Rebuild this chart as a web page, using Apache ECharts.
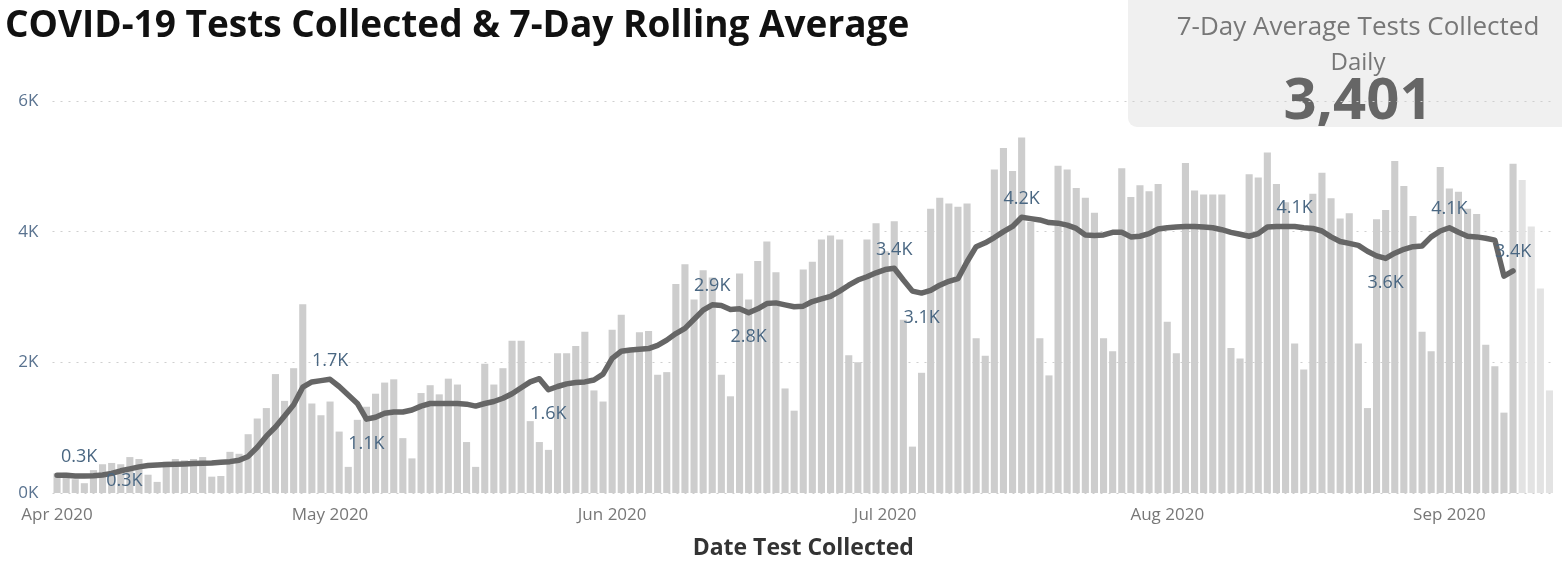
<!DOCTYPE html>
<html>
<head>
<meta charset="utf-8">
<title>COVID-19 Tests Collected</title>
<script src="https://cdn.jsdelivr.net/npm/echarts@6.0.0/dist/echarts.min.js"></script>
<style>
    html, body { margin: 0; padding: 0; background: #fff; }
    #chart { width: 1562px; height: 570px; }
</style>
</head>
<body>
<div id="chart"></div>
<script>
// tests collected per day, Apr 1 2020 .. Sep 12 2020
const dailyTests = [
    // Apr
    300, 310, 210, 150, 350, 440, 460, 440, 550, 520, 280, 170, 480, 520, 500,
    520, 550, 250, 260, 630, 600, 900, 1140, 1300, 1820, 1410, 1910, 2890, 1370, 1190,
    // May
    1400, 940, 400, 1120, 1320, 1520, 1690, 1740, 840, 530, 1530, 1650, 1510, 1750, 1660,
    780, 400, 1980, 1660, 1910, 2330, 2330, 1100, 780, 660, 2140, 2140, 2250, 2470, 1570, 1400,
    // Jun
    2500, 2730, 2200, 2460, 2480, 1810, 1850, 3200, 3500, 2960, 3410, 3300, 1810, 1480, 3360,
    2960, 3550, 3850, 3380, 1600, 1260, 3420, 3540, 3880, 3940, 3880, 2110, 2000, 3880, 4130,
    // Jul
    3700, 4160, 2650, 710, 1840, 4350, 4520, 4430, 4380, 4430, 2370, 2100, 4950, 5280, 4930,
    5440, 4150, 2370, 1800, 5010, 4950, 4670, 4520, 4290, 2370, 2170, 4970, 4530, 4710, 4620, 4730,
    // Aug
    2620, 2140, 5050, 4630, 4570, 4570, 4570, 2220, 2060, 4880, 4830, 5210, 4730, 4450, 2290,
    1890, 4580, 4900, 4510, 4200, 4280, 2290, 1300, 4190, 4330, 5080, 4700, 4240, 2470, 2170, 4990,
    // Sep
    4660, 4610, 4350, 4270, 2270, 1940, 1230, 5040, 4790, 4080, 3130, 1570
];

// 7-day rolling average, Apr 1 .. Sep 8
const rollingAvg = [
    270, 270, 260, 260, 265, 275, 300, 340, 370, 400, 420, 430, 435, 440, 445,
    450, 455, 460, 470, 480, 500, 560, 700, 870, 1010, 1180, 1350, 1620, 1700, 1720,
    1740, 1630, 1500, 1370, 1130, 1160, 1220, 1240, 1240, 1270, 1330, 1370, 1370, 1370, 1370,
    1360, 1330, 1370, 1400, 1450, 1520, 1610, 1700, 1750, 1580, 1630, 1670, 1690, 1700, 1730, 1820,
    2060, 2170, 2190, 2200, 2210, 2260, 2340, 2440, 2520, 2660, 2800, 2880, 2870, 2810, 2820,
    2760, 2820, 2900, 2910, 2880, 2850, 2860, 2930, 2970, 3010, 3090, 3180, 3260, 3310, 3370,
    3420, 3440, 3260, 3090, 3060, 3100, 3180, 3240, 3280, 3540, 3770, 3830, 3910, 4000, 4080,
    4220, 4200, 4180, 4140, 4130, 4100, 4050, 3950, 3940, 3950, 3990, 3990, 3920, 3930, 3970, 4040,
    4060, 4070, 4080, 4080, 4070, 4060, 4030, 3990, 3960, 3930, 3970, 4070, 4080, 4080, 4080,
    4060, 4050, 4010, 3920, 3850, 3820, 3790, 3700, 3630, 3590, 3670, 3730, 3770, 3780, 3920, 4010,
    4060, 3990, 3930, 3920, 3900, 3870, 3320, 3401
];

const provisionalDays = 4;   // most recent days, still incomplete
const labelDays = [0, 3, 30, 34, 54, 72, 76, 92, 95, 106, 136, 146, 153, 160];
const labelBelow = [3, 34, 54, 76, 95, 146];
const latestAverage = '3,401';
const months = ['Jan', 'Feb', 'Mar', 'Apr', 'May', 'Jun', 'Jul', 'Aug', 'Sep', 'Oct', 'Nov', 'Dec'];

const FONT = '"Open Sans", "Noto Sans", sans-serif';

const days = [];
const start = Date.UTC(2020, 3, 1);
for (let i = 0; i < dailyTests.length; i++) {
    days.push(new Date(start + i * 86400000).toISOString().slice(0, 10));
}

// a couple of labels sit off to the side in the original
const labelShift = {0: [22, 0], 3: [40, -20]};

const barData = dailyTests.map((v, i) =>
    i >= dailyTests.length - provisionalDays ? {value: v, itemStyle: {color: '#e3e3e3'}} : v);

const lineData = rollingAvg.map((v, i) => {
    if (!labelDays.includes(i)) return v;
    const below = labelBelow.includes(i);
    return {
        value: v,
        label: {
            show: true,
            position: below ? 'bottom' : 'top',
            distance: below ? 15 : 9
        }
    };
});

const chart = echarts.init(document.getElementById('chart'));
const option = {
    animation: false,
    backgroundColor: '#fff',
    title: {
        text: 'COVID-19 Tests Collected & 7-Day Rolling Average',
        left: 0,
        top: 3,
        textStyle: {fontFamily: FONT, fontSize: 37, fontWeight: 'bold', color: '#111'}
    },
    graphic: [
        {
            type: 'rect',
            z: -1,
            shape: {x: 1128, y: -12, width: 460, height: 139, r: 9},
            style: {fill: '#f0f0f0'}
        },
        {
            type: 'text',
            x: 1358, y: 28,
            style: {
                text: '7-Day Average Tests Collected',
                fill: '#777', font: '26px ' + FONT,
                align: 'center', verticalAlign: 'middle'
            }
        },
        {
            type: 'text',
            x: 1358, y: 63,
            style: {
                text: 'Daily',
                fill: '#777', font: '24px ' + FONT,
                align: 'center', verticalAlign: 'middle'
            }
        },
        {
            type: 'text',
            x: 1358, y: 102,
            style: {
                text: latestAverage,
                fill: '#666', font: 'bold 58px ' + FONT,
                align: 'center', verticalAlign: 'middle'
            }
        }
    ],
    grid: {
        left: 52.5,
        right: 8,
        top: 101,
        bottom: 77,
        containLabel: false,
        outerBoundsMode: 'none'
    },
    xAxis: {
        type: 'category',
        data: days,
        boundaryGap: true,
        name: 'Date Test Collected',
        nameLocation: 'middle',
        nameGap: 44,
        nameTextStyle: {fontFamily: FONT, fontSize: 23, fontWeight: 'bold', color: '#333'},
        axisLine: {show: false},
        axisTick: {show: false},
        axisLabel: {
            interval: (idx, val) => val.slice(8) === '01',
            formatter: val => months[+val.slice(5, 7) - 1] + ' ' + val.slice(0, 4),
            fontFamily: FONT,
            fontSize: 17,
            color: '#777',
            margin: 14
        },
        splitLine: {show: false}
    },
    yAxis: {
        type: 'value',
        min: 0,
        max: 6000,
        interval: 2000,
        axisLine: {show: false},
        axisTick: {show: false},
        axisLabel: {
            formatter: v => v / 1000 + 'K',
            fontFamily: FONT,
            fontSize: 17,
            color: '#5a7390',
            margin: 14
        },
        splitLine: {
            show: true,
            lineStyle: {color: '#cfcfcf', type: [2, 6], width: 1}
        }
    },
    series: [
        {
            name: 'Tests Collected',
            type: 'bar',
            data: barData,
            barCategoryGap: '22%',
            itemStyle: {color: '#cdcdcd'}
        },
        {
            name: '7-Day Rolling Average',
            type: 'line',
            data: lineData,
            symbol: 'circle',
            symbolSize: 1,
            showAllSymbol: true,
            itemStyle: {color: '#666'},
            lineStyle: {color: '#666', width: 5.5, cap: 'round', join: 'round'},
            label: {
                show: false,
                formatter: p => (p.value / 1000).toFixed(1) + 'K',
                fontFamily: FONT,
                fontSize: 18,
                color: '#4a6782'
            },
            labelLayout: p => {
                const s = labelShift[p.dataIndex];
                return s ? {dx: s[0], dy: s[1], hideOverlap: false} : {hideOverlap: false};
            },
            z: 3
        }
    ]
};
chart.setOption(option);
</script>
</body>
</html>
